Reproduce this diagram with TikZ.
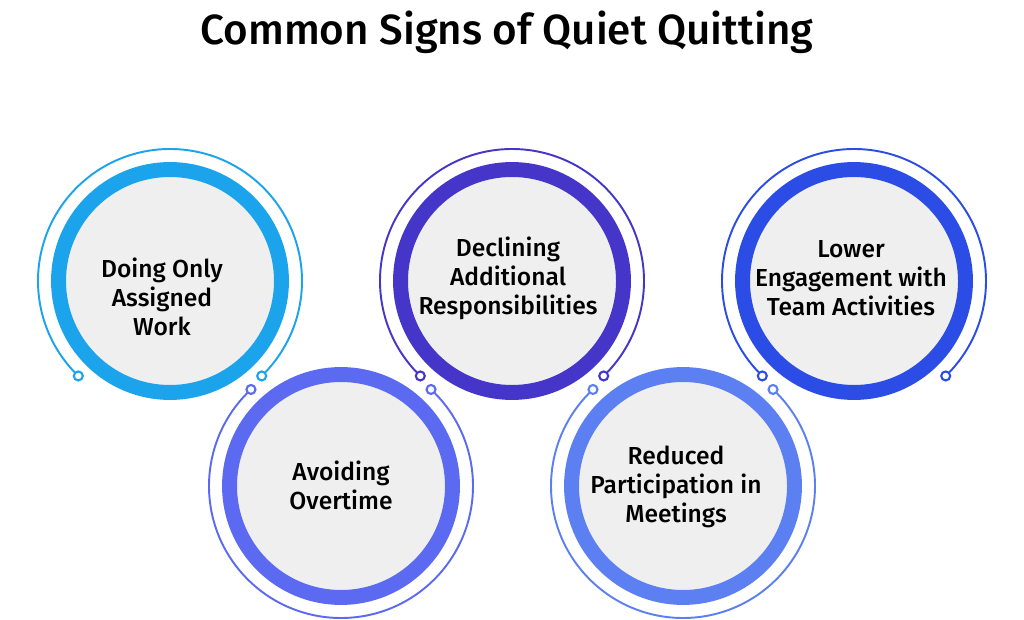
\documentclass[tikz,border=0pt]{standalone}
\usepackage{fontspec}
\setmainfont{Fira Sans}
\newfontfamily\signfont{Fira Sans Medium}
\usepackage{tikz}
\usetikzlibrary{positioning, calc, backgrounds}

\definecolor{signA}{HTML}{1BA3EC}
\definecolor{signB}{HTML}{5B6AF0}
\definecolor{signC}{HTML}{4535C8}
\definecolor{signD}{HTML}{5C80F2}
\definecolor{signE}{HTML}{2B4DE5}
\definecolor{discgray}{HTML}{EFEFEF}

\begin{document}
\begin{tikzpicture}[
    x=0.02cm, y=0.02cm,
    % --- STYLES ---
    disc/.style={
        circle, draw=#1, fill=discgray,
        line width=8.5pt,
        minimum size=4.46cm,
        inner sep=0pt
    },
    signtext/.style={
        font=\signfont\fontsize{14}{16.5}\selectfont,
        align=center, text=black
    },
    orbit/.style={draw=#1, line width=1.1pt},
    knob/.style={circle, draw=#1, fill=white, line width=1.2pt, minimum size=0.18cm, inner sep=0pt}
]

\useasboundingbox (0,0) rectangle (1024,619);

% ===== 1. COORDINATES & TITLE =====
\def\yTop{338}
\def\yBot{133}

\node[font=\signfont\fontsize{24}{28}\selectfont, anchor=base] (title) at (507,574) {Common Signs of Quiet Quitting};

% ===== 2. SIGN CIRCLES =====
\node[disc=signA] (s1) at (170,\yTop) {};
\node[disc=signB] (s2) at (341,\yBot) {};
\node[disc=signC] (s3) at (512,\yTop) {};
\node[disc=signD] (s4) at (683,\yBot) {};
\node[disc=signE] (s5) at (854,\yTop) {};

% ===== 3. TEXTS =====
\node[signtext] (t1) at (162,322) {Doing Only\\ Assigned\\ Work};
\node[signtext] (t2) at (341,134) {Avoiding\\ Overtime};
\node[signtext] (t3) at (508,341) {Declining\\ Additional\\ Responsibilities};
\node[signtext] (t4) at (676,132) {Reduced\\ Participation in\\ Meetings};
\node[signtext] (t5) at (851,341) {Lower\\ Engagement with\\ Team Activities};

% ===== 4. KNOBS (ends of the outer arcs) =====
\node[knob=signA] (k1a) at ([shift={(226:132)}]s1.center) {};
\node[knob=signA] (k1b) at ([shift={(-46:132)}]s1.center) {};
\node[knob=signB] (k2a) at ([shift={(133:132)}]s2.center) {};
\node[knob=signB] (k2b) at ([shift={(47:132)}]s2.center) {};
\node[knob=signC] (k3a) at ([shift={(226:132)}]s3.center) {};
\node[knob=signC] (k3b) at ([shift={(-46:132)}]s3.center) {};
\node[knob=signD] (k4a) at ([shift={(133:132)}]s4.center) {};
\node[knob=signD] (k4b) at ([shift={(47:132)}]s4.center) {};
\node[knob=signE] (k5a) at ([shift={(226:132)}]s5.center) {};
\node[knob=signE] (k5b) at ([shift={(-46:132)}]s5.center) {};

% ===== 5. OUTER ARCS =====
\begin{scope}[on background layer]
% top row: over the top
\draw[orbit=signA] (k1a.center) arc[start angle=226, end angle=-46, radius=132];
\draw[orbit=signC] (k3a.center) arc[start angle=226, end angle=-46, radius=132];
\draw[orbit=signE] (k5a.center) arc[start angle=226, end angle=-46, radius=132];
% bottom row: under the bottom
\draw[orbit=signB] (k2a.center) arc[start angle=133, end angle=407, radius=132];
\draw[orbit=signD] (k4a.center) arc[start angle=133, end angle=407, radius=132];
\end{scope}

\end{tikzpicture}
\end{document}
